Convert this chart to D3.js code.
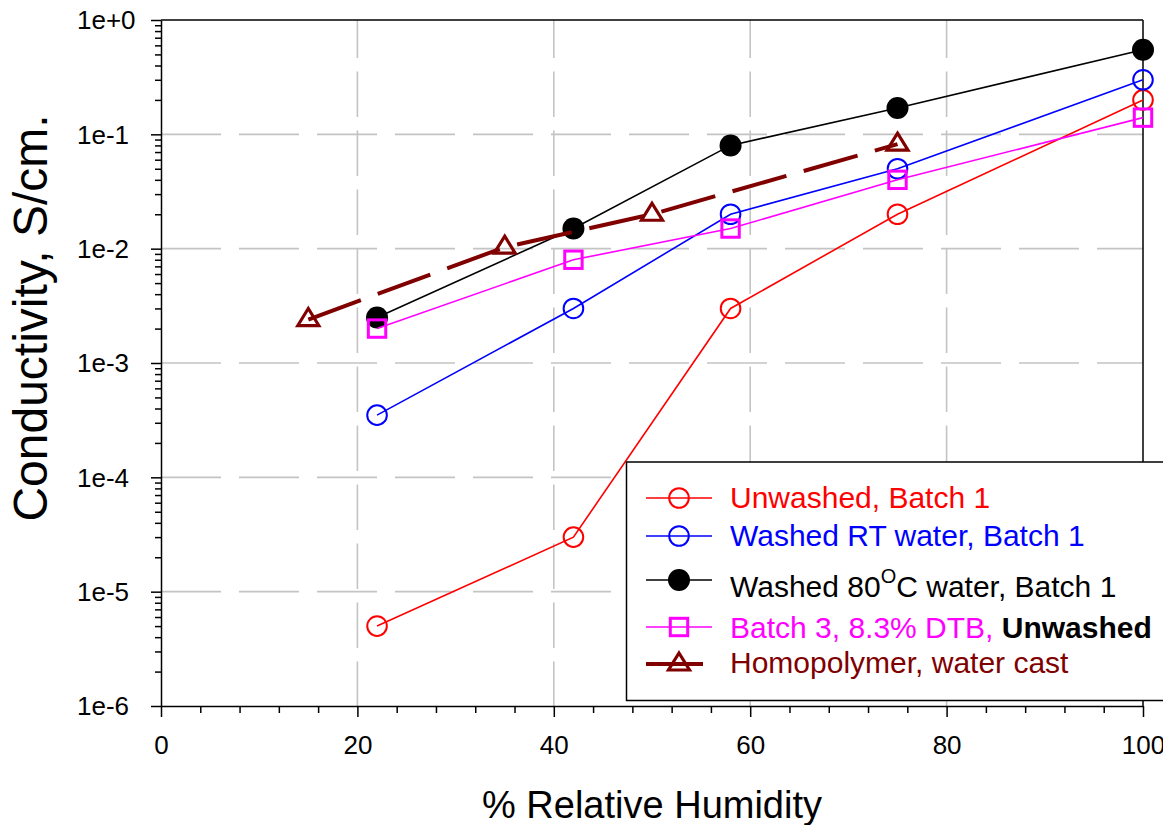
<!DOCTYPE html>
<html>
<head>
<meta charset="utf-8">
<script src="https://cdn.jsdelivr.net/npm/d3@7"></script>
<style>
  body { margin: 0; background: #fff; }
  svg { display: block; }
  text { font-family: "Liberation Sans", Arial, Helvetica, sans-serif; }
</style>
</head>
<body>
<svg id="chart" width="1163" height="825"></svg>
<script>
// Relative humidity (%) at which each film was measured
const humidity = [22, 42, 58, 75, 100];
const homoHumidity = [15, 35, 50, 75];

// Conductivity, S/cm
const unwashedB1 = [5e-6, 3e-5, 3e-3, 2e-2, 0.2];
const washedRTB1 = [3.5e-4, 3e-3, 2e-2, 5e-2, 0.3];
const washed80B1 = [2.5e-3, 1.5e-2, 8e-2, 0.17, 0.55];
const batch3DTB = [2e-3, 8e-3, 1.5e-2, 4e-2, 0.14];
const homopolymer = [2.4e-3, 1.03e-2, 2e-2, 8.2e-2];

// Axis ticks
const xTicks = [0, 20, 40, 60, 80, 100];
const xMinorTicks = d3.range(0, 101, 4).filter(v => v % 20 !== 0);
const yTicks = [1, 1e-1, 1e-2, 1e-3, 1e-4, 1e-5, 1e-6];
const yTickLabels = ["1e+0", "1e-1", "1e-2", "1e-3", "1e-4", "1e-5", "1e-6"];

const xTitle = "% Relative Humidity";
const yTitle = "Conductivity, S/cm.";

const series = [
  { x: humidity, y: unwashedB1, color: "#ff0000", marker: "circle", width: 1.6 },
  { x: humidity, y: washedRTB1, color: "#0000ff", marker: "circle", width: 1.6 },
  { x: humidity, y: washed80B1, color: "#000000", marker: "dot", width: 1.6 },
  { x: humidity, y: batch3DTB, color: "#ff00ff", marker: "square", width: 1.6 },
  { x: homoHumidity, y: homopolymer, color: "#800000", marker: "triangle", width: 4, dash: "56,18" }
];

const svg = d3.select("#chart");
const plotL = 161, plotR = 1143, plotT = 20, plotB = 706;

const x = d3.scaleLinear().domain([0, 100]).range([plotL, plotR]);
const y = d3.scaleLog().domain([1e-6, 1]).range([plotB, plotT]);

// Dashed grid
const grid = svg.append("g").attr("stroke", "#c4c4c4").attr("stroke-width", 1.6).attr("fill", "none");
grid.selectAll("line.v").data(xTicks.filter(v => v > 0 && v < 100)).join("line")
  .attr("x1", d => x(d)).attr("x2", d => x(d))
  .attr("y1", plotT).attr("y2", plotB)
  .attr("stroke-dasharray", "45.5,13.5").attr("stroke-dashoffset", 7.5);
grid.selectAll("line.h").data(yTicks.filter(v => v < 1 && v > 1e-6)).join("line")
  .attr("x1", plotL).attr("x2", plotR)
  .attr("y1", d => y(d)).attr("y2", d => y(d))
  .attr("stroke-dasharray", "60,18");

// Frame top and right
svg.append("line").attr("x1", plotL).attr("x2", plotR).attr("y1", plotT).attr("y2", plotT)
  .attr("stroke", "#000").attr("stroke-width", 1.5);
svg.append("line").attr("x1", plotR).attr("x2", plotR).attr("y1", plotT).attr("y2", plotB)
  .attr("stroke", "#000").attr("stroke-width", 1.5);

// X axis
const xAxis = svg.append("g").attr("transform", `translate(0,${plotB})`)
  .call(d3.axisBottom(x).tickValues(xTicks).tickSize(11).tickSizeOuter(0).tickPadding(19));
xAxis.selectAll("text").attr("font-size", 26).attr("fill", "#000")
  .style("font-family", "'Liberation Sans', Arial, sans-serif");
svg.append("g").attr("transform", `translate(0,${plotB})`)
  .call(d3.axisBottom(x).tickValues(xMinorTicks).tickSize(7).tickFormat(""))
  .call(g => g.select(".domain").remove());

// Y axis (log)
const yMinor = [];
for (let e = -6; e < 0; e++) for (let m = 2; m <= 9; m++) yMinor.push(m * Math.pow(10, e));
const yAxis = svg.append("g").attr("transform", `translate(${plotL},0)`)
  .call(d3.axisLeft(y).tickValues(yTicks).tickSize(10).tickSizeOuter(0)
    .tickFormat((d, i) => yTickLabels[i]));
yAxis.selectAll("text").attr("font-size", 26).attr("fill", "#000")
  .attr("text-anchor", "start").attr("x", -84).attr("dy", "0.34em")
  .style("font-family", "'Liberation Sans', Arial, sans-serif");
svg.append("g").attr("transform", `translate(${plotL},0)`)
  .call(d3.axisLeft(y).tickValues(yMinor).tickSize(6).tickFormat(""))
  .call(g => g.select(".domain").remove());

svg.selectAll(".domain, .tick line").attr("stroke", "#000").attr("stroke-width", 1.5);

// Axis titles
svg.append("text").attr("x", (plotL + plotR) / 2).attr("y", 818)
  .attr("text-anchor", "middle").attr("font-size", 38).text(xTitle);
svg.append("text").attr("transform", "translate(47,318) rotate(-90)")
  .attr("text-anchor", "middle").attr("font-size", 48).text(yTitle);

// Marker drawing
function drawMarker(g, type, color, cx, cy) {
  if (type === "circle") {
    g.append("circle").attr("cx", cx).attr("cy", cy).attr("r", 9.8)
      .attr("fill", "none").attr("stroke", color).attr("stroke-width", 2);
  } else if (type === "dot") {
    g.append("circle").attr("cx", cx).attr("cy", cy).attr("r", 11).attr("fill", color);
  } else if (type === "square") {
    g.append("rect").attr("x", cx - 8.7).attr("y", cy - 8.7).attr("width", 17.4).attr("height", 17.4)
      .attr("fill", "none").attr("stroke", color).attr("stroke-width", 3);
  } else if (type === "triangle") {
    g.append("path")
      .attr("d", `M${cx},${cy - 11}L${cx + 10.5},${cy + 6}L${cx - 10.5},${cy + 6}Z`)
      .attr("fill", "none").attr("stroke", color).attr("stroke-width", 3.2)
      .attr("stroke-linejoin", "miter");
  }
}

// Series lines and markers
const line = d3.line().x(d => x(d[0])).y(d => y(d[1]));
series.forEach(s => {
  const pts = s.x.map((v, i) => [v, s.y[i]]);
  const g = svg.append("g");
  g.append("path").attr("d", line(pts)).attr("fill", "none")
    .attr("stroke", s.color).attr("stroke-width", s.width)
    .attr("stroke-dasharray", s.dash || null);
  pts.forEach(p => drawMarker(g, s.marker, s.color, x(p[0]), y(p[1])));
});

// Legend
const legend = svg.append("g");
legend.append("rect").attr("x", 626.5).attr("y", 462).attr("width", 620).attr("height", 238.5)
  .attr("fill", "#fff").attr("stroke", "#000").attr("stroke-width", 1.5);

const legendRows = [
  { cy: 498, ty: 508, x2: 712 },
  { cy: 536, ty: 546, x2: 712 },
  { cy: 580, ty: 597, x2: 712 },
  { cy: 627, ty: 638, x2: 712 },
  { cy: 664, ty: 673, x2: 703 }
];
series.forEach((s, i) => {
  const r = legendRows[i];
  legend.append("line").attr("x1", 646).attr("x2", r.x2).attr("y1", r.cy).attr("y2", r.cy)
    .attr("stroke", s.color).attr("stroke-width", s.width);
  drawMarker(legend, s.marker, s.color, 679, r.cy);
});

const lx = 730, lfs = 30;
legend.append("text").attr("x", lx).attr("y", legendRows[0].ty).attr("font-size", lfs)
  .attr("fill", "#ff0000").text("Unwashed, Batch 1");
legend.append("text").attr("x", lx).attr("y", legendRows[1].ty).attr("font-size", lfs)
  .attr("fill", "#0000ff").text("Washed RT water, Batch 1");
const t3 = legend.append("text").attr("x", lx).attr("y", legendRows[2].ty).attr("font-size", lfs).attr("fill", "#000");
t3.append("tspan").text("Washed 80");
t3.append("tspan").attr("font-size", 20).attr("dy", -14).text("O");
t3.append("tspan").attr("dy", 14).text("C water, Batch 1");
const t4 = legend.append("text").attr("x", lx).attr("y", legendRows[3].ty).attr("font-size", lfs);
t4.append("tspan").attr("fill", "#ff00ff").text("Batch 3, 8.3% DTB, ");
t4.append("tspan").attr("fill", "#000").attr("font-weight", "bold").text("Unwashed");
legend.append("text").attr("x", lx).attr("y", legendRows[4].ty).attr("font-size", lfs)
  .attr("fill", "#800000").text("Homopolymer, water cast");
</script>
</body>
</html>
